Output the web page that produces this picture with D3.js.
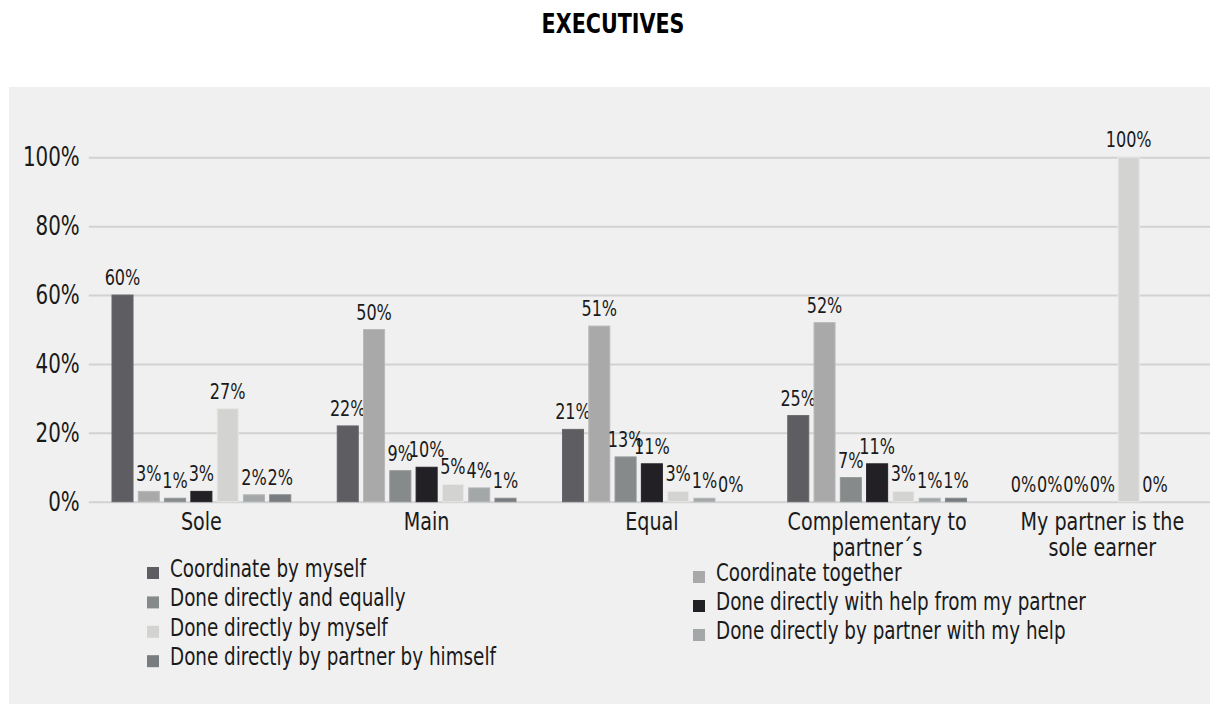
<!DOCTYPE html>
<html>
<head>
<meta charset="utf-8">
<script src="https://cdn.jsdelivr.net/npm/d3@7"></script>
<style>
  body { margin: 0; background: #ffffff; }
  text { font-family: "DejaVu Sans Condensed", "DejaVu Sans", sans-serif; fill: #1a1a1a; }
</style>
</head>
<body>
<div id="chart"></div>
<script>
// data
const groups = ["Sole", "Main", "Equal", "Complementary to partner´s", "My partner is the sole earner"];
const groupLines = [["Sole"], ["Main"], ["Equal"], ["Complementary to", "partner´s"], ["My partner is the", "sole earner"]];
const series = [
    "Coordinate by myself",
    "Coordinate together",
    "Done directly and equally",
    "Done directly with help from my partner",
    "Done directly by myself",
    "Done directly by partner with my help",
    "Done directly by partner by himself"
];
const seriesColors = ["#5e5d62", "#a9a9a9", "#868a8b", "#221f25", "#d3d3d1", "#a4a7a8", "#7a7d7f"];
// values per series, one entry per group (percent)
const coordinateByMyself   = [60, 22, 21, 25, 0];
const coordinateTogether   = [3, 50, 51, 52, 0];
const doneEqually          = [1, 9, 13, 7, 0];
const doneWithHelp         = [3, 10, 11, 11, 0];
const doneByMyself         = [27, 5, 3, 3, 100];
const doneByPartnerHelp    = [2, 4, 1, 1, 0];
const doneByPartnerHimself = [2, 1, 0, 1, null];
const values = [coordinateByMyself, coordinateTogether, doneEqually, doneWithHelp,
                doneByMyself, doneByPartnerHelp, doneByPartnerHimself];
const yTicks = [0, 0.2, 0.4, 0.6, 0.8, 1.0];

const W = 1210, H = 704;
const squeeze = 0.85; // reference font is a condensed face, squeeze glyphs horizontally

const svg = d3.select("#chart").append("svg")
    .attr("width", W)
    .attr("height", H);

//panel background
svg.append("rect")
    .attr("x", 9).attr("y", 87)
    .attr("width", W - 9).attr("height", H - 87)
    .attr("fill", "#f0f0f0");

//title
svg.append("text")
    .attr("class", "nar")
    .attr("x", 613)
    .attr("y", 33)
    .attr("text-anchor", "middle")
    .attr("font-size", 27)
    .attr("font-weight", 700)
    .style("fill", "#000")
    .text("EXECUTIVES");

const plotLeft = 88.75, plotRight = 1215;
const y = d3.scaleLinear().domain([0, 1]).range([501.7, 157.3]);
const x0 = d3.scaleBand().domain(groups).range([plotLeft, plotRight])
    .paddingInner(0.183).paddingOuter(0.0915);
const x1 = d3.scaleBand().domain(series).range([0, x0.bandwidth()])
    .paddingInner(0.2).paddingOuter(0.1);
const color = d3.scaleOrdinal().domain(series).range(seriesColors);

//gridlines + y labels
const yAxis = svg.append("g")
    .attr("transform", `translate(${plotLeft},0)`)
    .call(d3.axisLeft(y).tickValues(yTicks).tickFormat(d3.format(".0%"))
        .tickSize(-(W - plotLeft)).tickPadding(9));
yAxis.select(".domain").remove();
yAxis.selectAll("line").attr("stroke", "#d2d2d2").attr("stroke-width", 2);
yAxis.selectAll("text")
    .attr("class", "nar")
    .attr("font-size", 26)
    .attr("font-family", null)
    .style("fill", "#1a1a1a");

//bars
const g = svg.append("g");
series.forEach(function (s, si) {
    groups.forEach(function (grp, gi) {
        const v = values[si][gi];
        if (v === null) return;
        const bx = x0(grp) + x1(s);
        g.append("rect")
            .attr("x", bx)
            .attr("y", y(v / 100))
            .attr("width", x1.bandwidth())
            .attr("height", y(0) - y(v / 100))
            .attr("fill", color(s))
            .attr("stroke", d3.color(color(s)).brighter(0.25))
            .attr("stroke-width", 1);
        g.append("text")
            .attr("class", "nar")
            .attr("x", bx + x1.bandwidth() / 2)
            .attr("y", y(v / 100) - 10)
            .attr("text-anchor", "middle")
            .attr("font-size", 21)
            .text(v + "%");
    });
});

//category labels
groupLines.forEach(function (lines, gi) {
    const t = svg.append("text")
        .attr("x", x0(groups[gi]) + x0.bandwidth() / 2)
        .attr("y", 530)
        .attr("text-anchor", "middle")
        .attr("font-size", 25);
    lines.forEach(function (l, li) {
        t.append("tspan")
            .attr("class", "nar")
            .attr("x", x0(groups[gi]) + x0.bandwidth() / 2)
            .attr("dy", li === 0 ? 0 : 26)
            .text(l);
    });
});

//legend, two columns
const legendCols = [
    {mx: 147, tx: 170, base: 577, step: 29.4},
    {mx: 693, tx: 716, base: 581, step: 29}
];
series.forEach(function (s, i) {
    const col = legendCols[i % 2];
    const row = Math.floor(i / 2);
    const by = col.base + row * col.step;
    svg.append("rect")
        .attr("x", col.mx).attr("y", by - 10)
        .attr("width", 12).attr("height", 12)
        .attr("fill", color(s));
    svg.append("text")
        .attr("class", "nar")
        .attr("x", col.tx)
        .attr("y", by)
        .attr("font-size", 24)
        .text(s);
});

//condense every label
svg.selectAll(".nar").each(function () {
    const len = this.getComputedTextLength();
    this.setAttribute("textLength", len * squeeze);
    this.setAttribute("lengthAdjust", "spacingAndGlyphs");
});
</script>
</body>
</html>
